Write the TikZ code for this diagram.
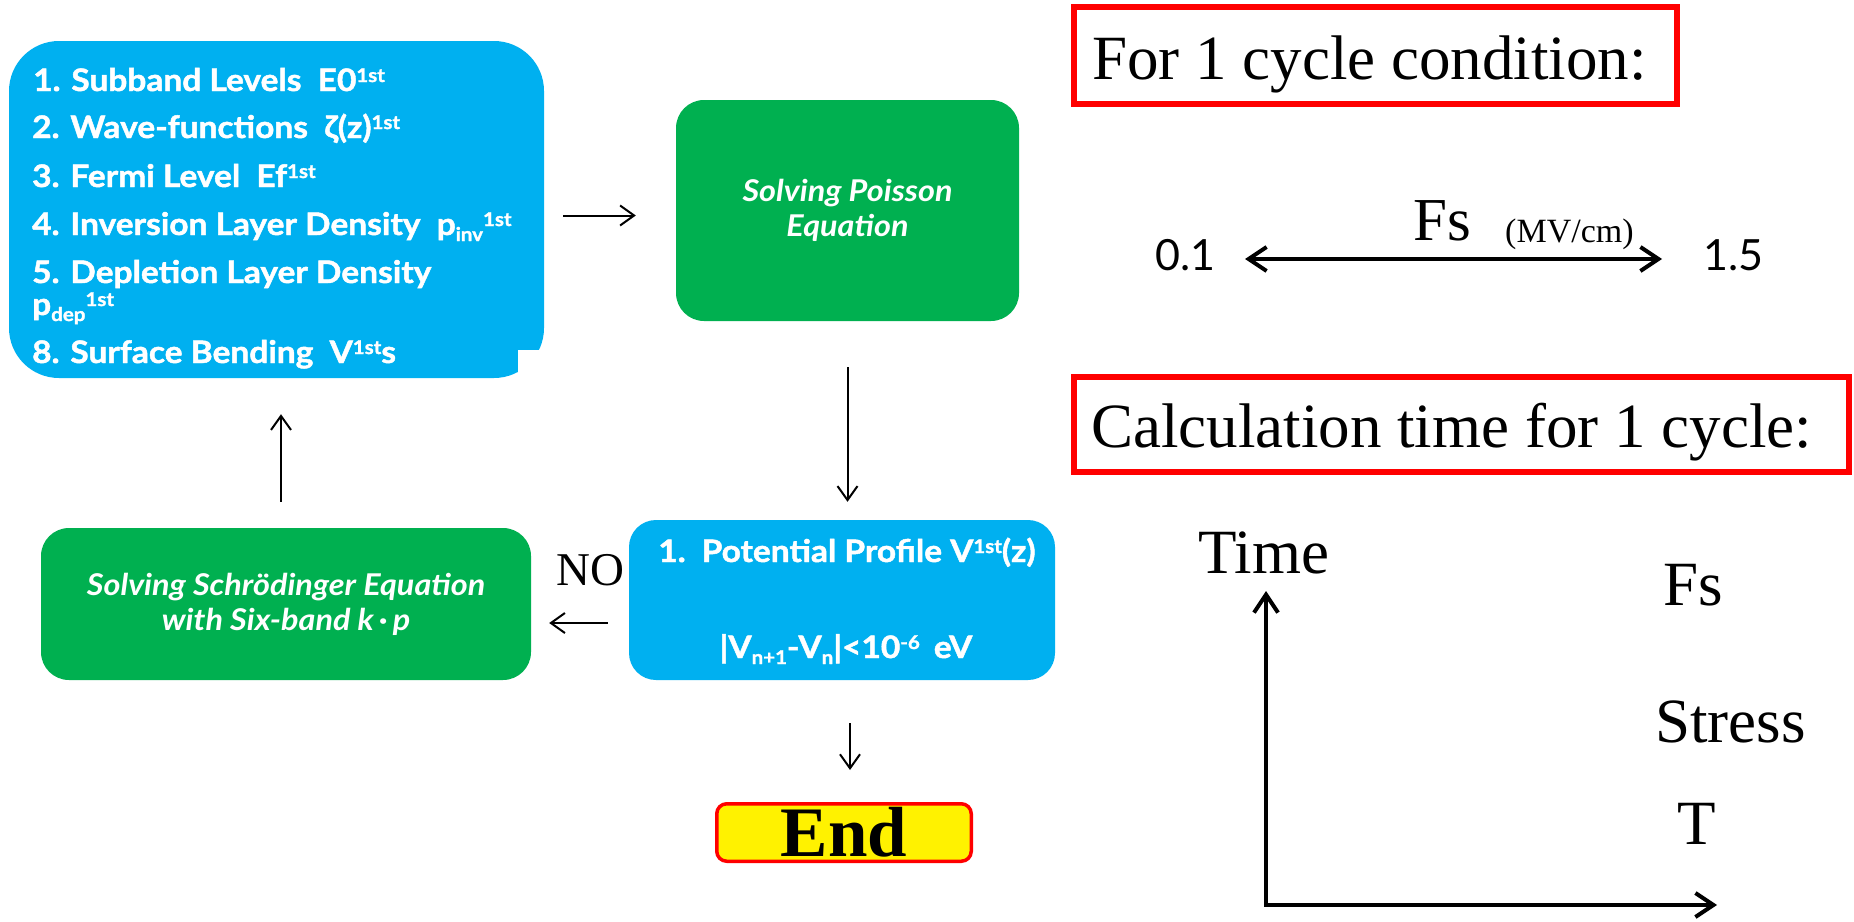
\documentclass[tikz,border=0pt]{standalone}
\usepackage{fontspec}
\usetikzlibrary{arrows.meta}
\newfontfamily\gill{Lato}[FakeStretch=1.08,BoldFeatures={FakeBold=1.5}]
\newfontfamily\gillnum{Lato}
\newfontfamily\tnr{Liberation Serif}
\definecolor{pblue}{HTML}{00B0F0}
\definecolor{pgreen}{HTML}{00B050}
\newcommand\hi[1]{\raisebox{9pt}{\fontsize{19}{19}\selectfont #1}}
\newcommand\lo[1]{\raisebox{-6pt}{\fontsize{19}{19}\selectfont #1}}
\tikzset{
  bbox/.style={fill=pblue,inner sep=0pt,rounded corners=27pt},
  gbox/.style={fill=pgreen,inner sep=0pt,rounded corners=28pt,text=white,
    font=\gill\bfseries\itshape\fontsize{30}{35}\selectfont,align=center},
  btext/.style={text=white,font=\gill\bfseries\fontsize{31}{36}\selectfont,inner sep=0pt},
  redbox/.style={draw=red,line width=6pt,inner sep=0pt},
  serif/.style={font=\tnr\fontsize{63}{70}\selectfont,inner sep=0pt},
  flow/.style={line width=2pt,-{Straight Barb[length=14pt,width=20pt]}},
  bigarr/.style={line width=4pt,line join=miter,
    {Straight Barb[length=18pt,width=24pt]}-{Straight Barb[length=18pt,width=24pt]}},
}
\begin{document}
\begin{tikzpicture}[x=1pt,y=-1pt]
\useasboundingbox[fill=white] (0,0) rectangle (1854,921);

% ---- blue box 1
\node[bbox,rounded corners=50pt,minimum width=535pt,minimum height=337pt] (b1) at (276.5,209.5) {};
\fill[white] (518,350) rectangle (550,382);
\node[btext,anchor=base west] (l1) at (33,91) {1. Subband Levels\ \ E0\hi{1st}};
\node[btext,anchor=base west] (l2) at (32,138) {2. Wave-functions\ \ ζ(z)\hi{1st}};
\node[btext,anchor=base west] (l3) at (32,187) {3. Fermi Level\ \ Ef\hi{1st}};
\node[btext,anchor=base west] (l4) at (32,235) {4. Inversion Layer Density\ \ p\lo{inv}\hi{1st}};
\node[btext,anchor=base west] (l5) at (32,283) {5. Depletion Layer Density};
\node[btext,anchor=base west] (l6) at (32,315) {p\lo{dep}\hi{1st}};
\node[btext,anchor=base west] (l7) at (32,363) {8. Surface Bending\ \ V\hi{1st}s};

% ---- Poisson
\node[gbox,minimum width=343pt,minimum height=221pt] (poisson) at (847.5,210.5) {Solving Poisson\\Equation};

% ---- blue box 2
\node[bbox,minimum width=426pt,minimum height=160pt] (b2) at (842,600) {};
\node[btext,anchor=base] (v1) at (847,562) {1.\hspace{16pt}Potential Profile V\hi{1st}(z)};
\node[btext,anchor=base] (v2) at (846,658) {|V\lo{n+1}-V\lo{n}|<10\hi{-6}\hspace{14pt}eV};

% ---- Schroedinger
\node[gbox,minimum width=490pt,minimum height=152pt] (g2) at (286,604) {Solving Schrödinger Equation\\with Six-band k\,·\,p};

% ---- End
\node[draw=red,line width=3.5pt,fill=yellow,rounded corners=10pt,minimum width=254.5pt,
  minimum height=57.5pt,inner sep=0pt,font=\tnr\bfseries\fontsize{71}{71}\selectfont] (end) at (844,832.5) {End};

\node[font=\tnr\fontsize{47}{47}\selectfont,inner sep=0pt,anchor=base] (no) at (590,585) {NO};

% ---- flow arrows
\draw[flow,shorten <=19pt,shorten >=40pt] ([yshift=-6pt]b1.east) -- ([yshift=-6pt]b1.east -| poisson.west);
\draw[flow,shorten <=46pt,shorten >=18pt] (poisson.south) -- (poisson.south |- b2.north);
\draw[flow,shorten <=21pt,shorten >=18pt] ([yshift=-23pt]b2.west) -- ([yshift=-23pt]b2.west -| g2.east);
\draw[flow,shorten <=26pt,shorten >=36pt] ([xshift=-5pt]g2.north) -- ([xshift=-5pt]g2.north |- b1.south);
\draw[flow,shorten <=43pt,shorten >=32pt] ([xshift=6pt]end.north |- b2.south) -- ([xshift=6pt]end.north);

% ---- right side
\node[redbox,minimum width=603pt,minimum height=97pt] (rb1) at (1375.5,55.5) {};
\node[serif,anchor=base west] (t1) at (1092,79) {For 1 cycle condition:};
\node[serif,anchor=base west,font=\tnr\fontsize{61}{61}\selectfont] (fs1) at (1413,240) {Fs};
\node[font=\tnr\fontsize{34}{34}\selectfont,inner sep=0pt,anchor=base west] (unit) at (1505,242) {(MV/cm)};
\node[font=\gillnum\fontsize{43}{43}\selectfont,inner sep=0pt,anchor=base west] (n01) at (1155,270) {0.1};
\node[font=\gillnum\fontsize{43}{43}\selectfont,inner sep=0pt,anchor=base west] (n15) at (1703,270) {1.5};
\coordinate (fsl) at (1245,259);
\coordinate (fsr) at (1662,259);
\draw[bigarr] (fsl) -- (fsr);

\node[redbox,minimum width=775pt,minimum height=95pt] (rb2) at (1461.5,424.5) {};
\node[serif,anchor=base west] (t2) at (1091,447) {Calculation time for 1 cycle:};

\node[serif,anchor=base west] (time) at (1198,573) {Time};
\node[serif,anchor=base west] (fs2) at (1663,605) {Fs};
\node[serif,anchor=base west] (stress) at (1655,742) {Stress};
\node[serif,anchor=base west] (tt) at (1677,844) {T};
\coordinate (ax0) at (1266,905);
\coordinate (axy) at (1266,591);
\coordinate (axx) at (1717,905);
\draw[bigarr] (axy) -- (ax0) -- (axx);
\end{tikzpicture}
\end{document}
